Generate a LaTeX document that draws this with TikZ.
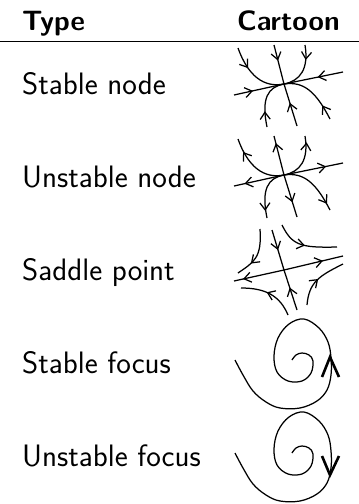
\documentclass[tikz,border=0pt]{standalone}
\usetikzlibrary{arrows.meta,decorations.markings}
\tikzset{
  flow/.style={line width=1.25pt},
  lbl/.style={font=\sffamily\fontsize{31}{36}\selectfont, inner sep=0pt, anchor=base west},
  hdr/.style={font=\sffamily\bfseries\fontsize{28}{34}\selectfont, inner sep=0pt},
  fwd/.style={postaction={decorate,decoration={markings,mark=at position #1 with {\arrow{>}}}}},
  bwd/.style={postaction={decorate,decoration={markings,mark=at position #1 with {\arrow{<}}}}},
  bigtip/.style={line width=2.6pt, line join=miter, line cap=butt},
}
\newcommand\NodePaths{%
  \draw[flow,mk=0.38] (-50,11) -- (0,0);
  \draw[flow,mk=0.43] (59,-12) -- (0,0);
  \draw[flow,mk=0.4] (-10,-39) -- (0,0);
  \draw[flow,mk=0.55] (13,42) -- (0,0);
  \draw[flow,mk=0.35] (-46,-36) .. controls (-36,-8) and (-20,4) .. (0,0);
  \draw[flow,mk=0.3] (21,-39) .. controls (25,-15) and (16,-3) .. (0,0);
  \draw[flow,mk=0.3] (-17,43) .. controls (-23,14) and (-16,3) .. (0,0);
  \draw[flow,mk=0.25] (46,35) .. controls (32,8) and (20,-3) .. (0,0);
}
\newcommand\SpiralPath{%
  \draw[flow] plot[smooth,tension=0.6] coordinates {(-65,0) (-57,15) (-47,31) (-34,42) (-20,48) (0,48) (17,41) (27,30) (31,15) (31,-2) (28,-18) (19,-32) (4,-41) (-11,-36) (-22,-22) (-26,-4) (-23,12) (-12,21) (2,21) (11,13) (13,1) (9,-5) (2,-7) (-4,-5) (-8,0)};
}
\begin{document}
\begin{tikzpicture}[x=1pt,y=-1pt,>={Straight Barb[length=7pt,width=10pt]}]
\useasboundingbox (0,0) rectangle (359,504);
% header
\node[hdr, anchor=base west] (h1) at (22,30) {Type};
\node[hdr, anchor=base east] (h2) at (340,30) {Cartoon};
\draw[line width=0.8pt] (0,41) -- (359,41);
% labels
\node[lbl] (t1) at (22,94) {Stable node};
\node[lbl] (t2) at (22,187) {Unstable node};
\node[lbl] (t3) at (22,280) {Saddle point};
\node[lbl] (t4) at (22,373) {Stable focus};
\node[lbl] (t5) at (22,466) {Unstable focus};
% stable node
\begin{scope}[shift={(284,84)}, mk/.style={fwd=#1}]
  \NodePaths
\end{scope}
% unstable node
\begin{scope}[shift={(284,175)}, mk/.style={bwd=#1}]
  \NodePaths
\end{scope}
% saddle
\begin{scope}[shift={(284,270)}]
  \draw[flow,fwd=0.82] (0,0) -- (-50,11);
  \draw[flow,fwd=0.66] (0,0) -- (59,-14);
  \draw[flow,fwd=0.5] (-12,-40) -- (0,0);
  \draw[flow,fwd=0.56] (13,40) -- (0,0);
  \draw[flow,fwd=0.7] (-24,-41) .. controls (-22,-12) and (-30,-8) .. (-46,3);
  \draw[flow,fwd=0.5] (-2,-45) .. controls (8,-25) and (16,-22) .. (53,-23);
  \draw[flow,fwd=0.55] (4,45) .. controls (-4,26) and (-18,18) .. (-43,18);
  \draw[flow,fwd=0.5] (23,35) .. controls (25,12) and (35,6) .. (59,-6);
\end{scope}
% stable focus
\begin{scope}[shift={(300,360)}]
  \SpiralPath
  \draw[bigtip] (22,17) -- (30,-3) -- (39,17);
\end{scope}
% unstable focus
\begin{scope}[shift={(300,453)}]
  \SpiralPath
  \draw[bigtip] (22,3) -- (30,22) -- (39,3);
\end{scope}
\end{tikzpicture}
\end{document}
